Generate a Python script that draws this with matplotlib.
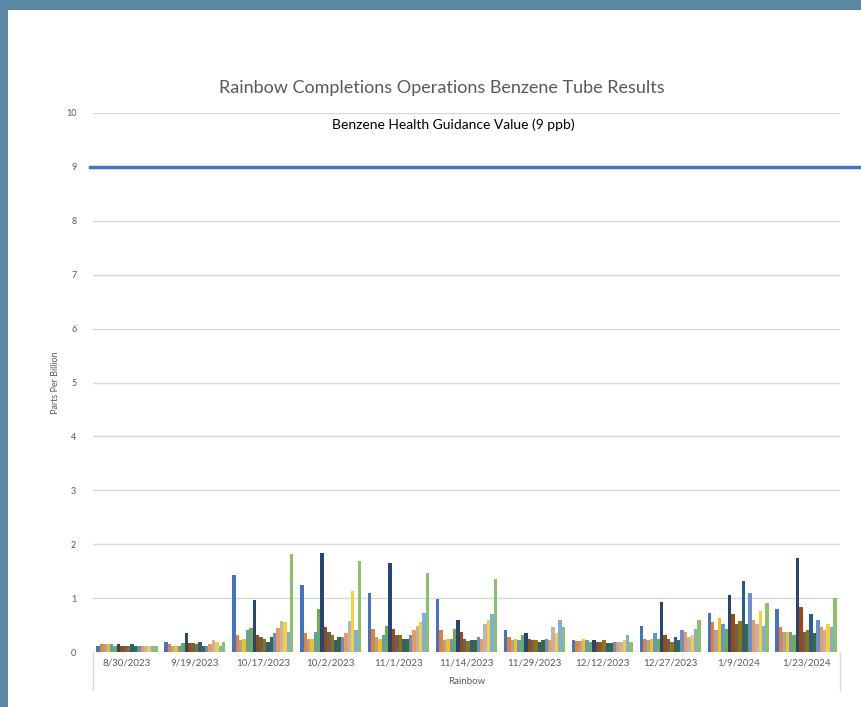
import numpy as np
import matplotlib
matplotlib.use("Agg")
import matplotlib.pyplot as plt

plt.rcParams['font.family'] = ['Lato', 'DejaVu Sans']

dates = ["8/30/2023", "9/19/2023", "10/17/2023", "10/2/2023", "11/1/2023",
         "11/14/2023", "11/29/2023", "12/12/2023", "12/27/2023", "1/9/2024",
         "1/23/2024"]

# one list per sampling date, 18 tube locations each (ppb)
d0830 = [0.11, 0.14, 0.14, 0.14, 0.14, 0.12, 0.14, 0.11, 0.11, 0.11, 0.14, 0.12, 0.11, 0.11, 0.11, 0.11, 0.11, 0.11]
d0919 = [0.19, 0.14, 0.11, 0.11, 0.11, 0.17, 0.35, 0.17, 0.17, 0.14, 0.19, 0.11, 0.11, 0.14, 0.22, 0.19, 0.11, 0.19]
d1017 = [1.43, 0.31, 0.23, 0.25, 0.41, 0.44, 0.96, 0.31, 0.28, 0.25, 0.19, 0.28, 0.35, 0.44, 0.58, 0.55, 0.38, 1.81]
d1002 = [1.25, 0.35, 0.25, 0.25, 0.38, 0.79, 1.84, 0.46, 0.38, 0.31, 0.22, 0.28, 0.28, 0.35, 0.58, 1.14, 0.41, 1.69]
d1101 = [1.10, 0.43, 0.28, 0.25, 0.31, 0.49, 1.66, 0.43, 0.31, 0.31, 0.25, 0.25, 0.31, 0.41, 0.49, 0.56, 0.73, 1.46]
d1114 = [0.99, 0.41, 0.23, 0.25, 0.25, 0.43, 0.60, 0.38, 0.25, 0.20, 0.22, 0.22, 0.28, 0.25, 0.52, 0.59, 0.70, 1.36]
d1129 = [0.40, 0.28, 0.23, 0.25, 0.22, 0.31, 0.35, 0.25, 0.22, 0.22, 0.19, 0.22, 0.25, 0.22, 0.46, 0.35, 0.60, 0.46]
d1212 = [0.22, 0.20, 0.20, 0.25, 0.22, 0.19, 0.22, 0.19, 0.19, 0.22, 0.17, 0.17, 0.19, 0.19, 0.19, 0.22, 0.31, 0.19]
d1227 = [0.49, 0.25, 0.22, 0.25, 0.35, 0.25, 0.93, 0.31, 0.25, 0.19, 0.28, 0.22, 0.41, 0.38, 0.28, 0.31, 0.43, 0.60]
d0109 = [0.73, 0.55, 0.41, 0.64, 0.52, 0.43, 1.05, 0.70, 0.52, 0.58, 1.31, 0.52, 1.10, 0.60, 0.52, 0.76, 0.49, 0.90]
d0123 = [0.79, 0.46, 0.38, 0.38, 0.38, 0.31, 1.75, 0.84, 0.38, 0.41, 0.70, 0.35, 0.60, 0.46, 0.41, 0.52, 0.46, 1.01]

guidance = 9

colors = ["#4472C4", "#ED7D31", "#A5A5A5", "#FFC000", "#5B9BD5", "#70AD47",
          "#264478", "#9E480E", "#636363", "#997300", "#255E91", "#43682B",
          "#698ED0", "#F1975A", "#B7B7B7", "#FFCD33", "#7CAFDD", "#8CC168"]

values = np.array([d0830, d0919, d1017, d1002, d1101, d1114, d1129,
                   d1212, d1227, d0109, d0123]).T

fig = plt.figure(figsize=(8.61, 7.07), dpi=100)
fig.patch.set_facecolor("#5B87A4")
# white chart panel, kept behind the axes
fig.patches.append(plt.Rectangle((8 / 861, 0), 1, 1 - 10 / 707, transform=fig.transFigure,
                                 facecolor="white", edgecolor="none", zorder=-10))

ax = fig.add_axes([93 / 861, 55 / 707, 747 / 861, 539 / 707])
ax.set_facecolor("none")

n_series = values.shape[0]
x = np.arange(len(dates))
w = 0.9 / n_series
for i in range(n_series):
    ax.bar(x - 0.45 + w * (i + 0.5), values[i], width=w, color=colors[i], zorder=3)

ax.set_xlim(-0.5, len(dates) - 0.5)
ax.set_ylim(0, 10)
ax.set_yticks(range(0, 11))
ax.grid(axis="y", color="#D9D9D9", linewidth=1, zorder=0)
for s in ax.spines.values():
    s.set_visible(False)
ax.axhline(0, color="#D9D9D9", linewidth=1, zorder=2)
ax.tick_params(axis="y", length=0, labelsize=6.5, labelcolor="#595959", pad=12)
ax.tick_params(axis="x", length=0, labelsize=7, labelcolor="#595959", pad=5)
ax.set_xticks(x)
ax.set_xticklabels(dates)

# category group box
for xx in (-0.5, len(dates) - 0.5):
    ax.plot([xx, xx], [0, -0.7], color="#D9D9D9", linewidth=1, clip_on=False)
ax.text((len(dates) - 1) / 2, -0.55, "Rainbow", ha="center", va="center",
        fontsize=7, color="#595959")

ax.set_ylabel("Parts Per Billion", fontsize=6.5, color="#595959", labelpad=4)

# guidance line
ax.axhline(guidance, xmin=-0.004, xmax=(861 - 93) / 747, color="#4472C4",
           linewidth=2.5, clip_on=False, zorder=4)
ax.text((453 - 93) / 747, (652 - 125) / 539, "Benzene Health Guidance Value (9 ppb)",
        transform=ax.transAxes, ha="center", va="center", fontsize=10, color="black")

fig.text(442 / 861, 1 - 88 / 707, "Rainbow Completions Operations Benzene Tube Results",
         ha="center", va="center", fontsize=13, color="#595959")

fig.savefig("out.png", dpi=100)
